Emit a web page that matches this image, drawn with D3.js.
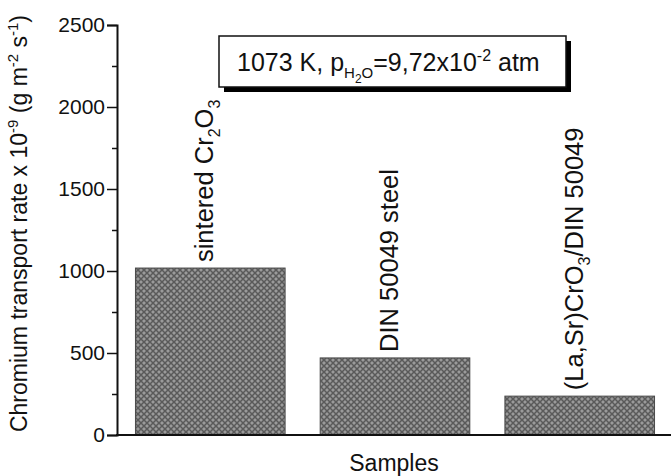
<!DOCTYPE html>
<html>
<head>
<meta charset="utf-8">
<script src="https://cdn.jsdelivr.net/npm/d3@7"></script>
<style>
  body { margin: 0; background: #fff; }
  svg { display: block; font-family: "Liberation Sans", Arial, sans-serif; }
</style>
</head>
<body>
<svg id="chart"></svg>
<script>
// data
const samples = ["sintered", "steel", "coated"];
const values = [1018, 470, 237];
const yTicks = [0, 500, 1000, 1500, 2000, 2500];
const yMinorTicks = [250, 750, 1250, 1750, 2250];

// bar labels with sub-scripts as [text, isSub] pieces
const barLabels = [
  [["sintered Cr", 0], ["2", 1], ["O", 0], ["3", 1]],
  [["DIN 50049 steel", 0]],
  [["(La,Sr)CrO", 0], ["3", 1], ["/DIN 50049", 0]]
];

const width = 671, height = 476;
const margin = { left: 117, bottom: 41, top: 25 };

const svg = d3.select("#chart").attr("width", width).attr("height", height);

// crosshatch fill
const defs = svg.append("defs");
const pat = defs.append("pattern")
  .attr("id", "hatch")
  .attr("patternUnits", "userSpaceOnUse")
  .attr("width", 6)
  .attr("height", 6);
pat.append("rect").attr("width", 6).attr("height", 6).attr("fill", "#858585");
pat.append("path").attr("d", "M0,0L6,6M6,0L0,6")
  .attr("stroke", "#585858").attr("stroke-width", 1.2);
[[3, 0], [0, 3], [6, 3], [3, 6]].forEach(([cx, cy]) =>
  pat.append("circle").attr("cx", cx).attr("cy", cy).attr("r", 0.9).attr("fill", "#a4a4a4"));

const x = d3.scaleBand()
  .domain(samples)
  .range([margin.left, 673])
  .paddingInner(0.19)
  .paddingOuter(0.1);

const y = d3.scaleLinear()
  .domain([0, 2500])
  .range([height - margin.bottom, margin.top]);

// bars
svg.append("g")
  .selectAll("rect")
  .data(samples)
  .join("rect")
  .attr("x", d => x(d))
  .attr("y", (d, i) => y(values[i]))
  .attr("width", x.bandwidth())
  .attr("height", (d, i) => y(0) - y(values[i]))
  .attr("fill", "url(#hatch)")
  .attr("stroke", "#4a4a4a")
  .attr("stroke-width", 1);

// y axis (major + minor)
const yAxis = d3.axisLeft(y).tickValues(yTicks).tickSize(10).tickPadding(2).tickFormat(d3.format("d"));
svg.append("g")
  .attr("transform", `translate(${margin.left},0)`)
  .call(yAxis)
  .call(g => g.attr("font-family", null).attr("font-size", null))
  .call(g => g.select(".domain").attr("stroke-width", 2).attr("stroke", "#111"))
  .call(g => g.selectAll(".tick line").attr("stroke-width", 1.5).attr("stroke", "#111"))
  .call(g => g.selectAll(".tick text").attr("font-size", 21).attr("fill", "#111"));

svg.append("g")
  .attr("transform", `translate(${margin.left},0)`)
  .call(d3.axisLeft(y).tickValues(yMinorTicks).tickSize(5).tickFormat(""))
  .call(g => g.select(".domain").remove())
  .call(g => g.selectAll(".tick line").attr("stroke-width", 1.5).attr("stroke", "#111"));

// x axis line, no ticks
svg.append("g")
  .attr("transform", `translate(0,${y(0)})`)
  .call(d3.axisBottom(x).tickSize(0).tickFormat(""))
  .call(g => g.select(".domain").attr("stroke-width", 2).attr("stroke", "#111")
    .attr("d", `M${margin.left - 1},0H${width}`));

// bar labels, vertical
barLabels.forEach((parts, i) => {
  const t = svg.append("text")
    .attr("transform", `translate(${x(samples[i]) + x.bandwidth() / 2 + 3},${y(values[i]) - 6}) rotate(-90)`)
    .attr("dy", "0.36em")
    .attr("font-size", 25.5)
    .attr("fill", "#111");
  let shift = 0;
  parts.forEach(([s, sub]) => {
    const dy = sub ? 7 - shift : -shift;
    t.append("tspan")
      .attr("dy", dy)
      .attr("font-size", sub ? 16 : 25.5)
      .text(s);
    shift += dy;
  });
});

// y title
const yt = svg.append("text")
  .attr("transform", `translate(27,${(y(0) + 8) / 2 + 2}) rotate(-90)`)
  .attr("text-anchor", "middle")
  .attr("font-size", 23)
  .attr("fill", "#111");
yt.append("tspan").text("Chromium transport rate x 10");
yt.append("tspan").attr("dy", -9).attr("font-size", 15).text("-9");
yt.append("tspan").attr("dy", 9).text(" (g m");
yt.append("tspan").attr("dy", -9).attr("font-size", 15).text("-2");
yt.append("tspan").attr("dy", 9).text(" s");
yt.append("tspan").attr("dy", -9).attr("font-size", 15).text("-1");
yt.append("tspan").attr("dy", 9).text(")");

// x title
svg.append("text")
  .attr("x", 394)
  .attr("y", 471)
  .attr("text-anchor", "middle")
  .attr("font-size", 23)
  .attr("fill", "#111")
  .text("Samples");

// condition box with drop shadow
const box = { x: 219, y: 36, w: 347, h: 51 };
svg.append("rect")
  .attr("x", box.x + 5).attr("y", box.y + 5)
  .attr("width", box.w).attr("height", box.h)
  .attr("fill", "#000");
svg.append("rect")
  .attr("x", box.x).attr("y", box.y)
  .attr("width", box.w).attr("height", box.h)
  .attr("fill", "#fff").attr("stroke", "#111").attr("stroke-width", 1.5);

const bt = svg.append("text")
  .attr("x", box.x + 18)
  .attr("y", box.y + 35)
  .attr("font-size", 25)
  .attr("fill", "#111");
bt.append("tspan").text("1073 K, p");
bt.append("tspan").attr("dy", 7).attr("font-size", 15).text("H");
bt.append("tspan").attr("dy", 5).attr("font-size", 12).text("2");
bt.append("tspan").attr("dy", -5).attr("font-size", 15).text("O");
bt.append("tspan").attr("dy", -7).text("=9,72x10");
bt.append("tspan").attr("dy", -10).attr("font-size", 16).text("-2");
bt.append("tspan").attr("dy", 10).text(" atm");
</script>
</body>
</html>
